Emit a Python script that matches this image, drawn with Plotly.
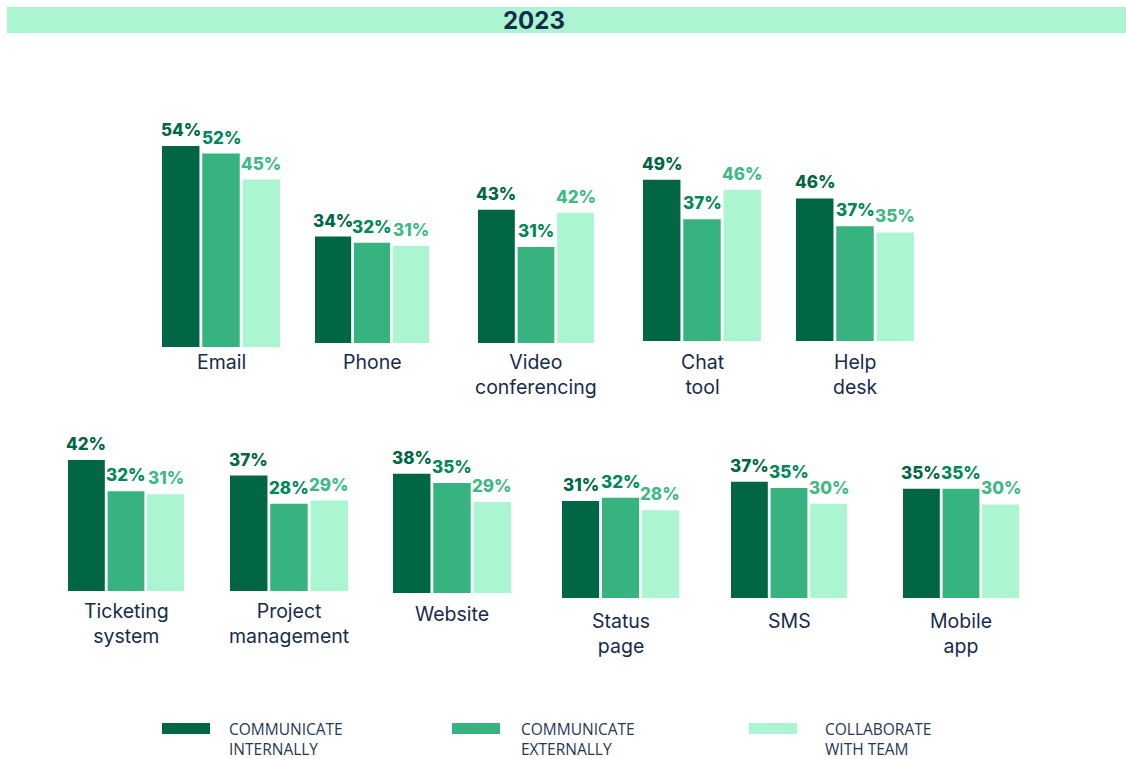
import plotly.graph_objects as go

# ---------------- data ----------------
title_text = "2023"
categories = ["Email", "Phone", "Video<br>conferencing", "Chat<br>tool", "Help<br>desk",
              "Ticketing<br>system", "Project<br>management", "Website", "Status<br>page",
              "SMS", "Mobile<br>app"]
series_names = ["COMMUNICATE<br>INTERNALLY", "COMMUNICATE<br>EXTERNALLY", "COLLABORATE<br>WITH TEAM"]
communicate_internally = [54, 34, 43, 49, 46, 42, 37, 38, 31, 37, 35]
communicate_externally = [52, 32, 31, 37, 37, 32, 28, 35, 32, 35, 35]
collaborate_with_team = [45, 31, 42, 46, 35, 31, 29, 29, 28, 30, 30]
series_values = [communicate_internally, communicate_externally, collaborate_with_team]

# ---------------- styles / layout ----------------
W, H = 1126, 759
bar_colors = ["#006644", "#36B37E", "#ABF5D1"]
label_colors = ["#006644", "#00875A", "#3DBA85"]
navy = "#172B4D"

# per group: left px, right px, baseline px, px per percent, label first-line centre px
group_geom = [
    (162, 280, 347, 3.72, 362),
    (315, 429, 343, 3.13, 362),
    (478, 594, 343, 3.10, 362),
    (643, 761, 341, 3.29, 362),
    (796, 914, 341, 3.10, 362),
    (68, 184, 591, 3.12, 610),
    (230, 348, 591, 3.12, 610),
    (393, 511, 593, 3.14, 613),
    (562, 679, 598, 3.13, 620),
    (731, 847, 598, 3.14, 620),
    (903, 1019, 598, 3.12, 620),
]
YMAX = 60
BAR_W = 0.93

fig = go.Figure()
layout_axes = {}
annotations = []

for g, (left, right, base, scale, lab_y) in enumerate(group_geom):
    n = g + 1
    xa = "x" if n == 1 else f"x{n}"
    ya = "y" if n == 1 else f"y{n}"
    for s in range(3):
        v = series_values[s][g]
        fig.add_trace(go.Bar(
            x=[s], y=[v],
            xaxis=xa, yaxis=ya,
            width=BAR_W,
            marker=dict(color=bar_colors[s], line=dict(width=0)),
            name=series_names[s].replace("<br>", " "),
            showlegend=False,
            hoverinfo="skip",
        ))
        annotations.append(dict(
            text=f"{v}%", x=s, y=v, xref=xa, yref=ya, xanchor="center", yanchor="bottom",
            yshift=4, showarrow=False,
            font=dict(family="Inter", size=17, color=label_colors[s], weight=800),
        ))
    xkey = "xaxis" if n == 1 else f"xaxis{n}"
    ykey = "yaxis" if n == 1 else f"yaxis{n}"
    top = base - YMAX * scale
    layout_axes[xkey] = dict(domain=[left / W, right / W], range=[-BAR_W / 2, 2 + BAR_W / 2],
                             visible=False, fixedrange=True, anchor=ya)
    layout_axes[ykey] = dict(domain=[1 - base / H, 1 - top / H], range=[0, YMAX],
                             visible=False, fixedrange=True, anchor=xa)
    annotations.append(dict(
        text=categories[g], x=(left + right) / 2 / W, y=1 - (lab_y - 13.5) / H,
        xref="paper", yref="paper", xanchor="center", yanchor="top", showarrow=False,
        align="center", font=dict(family="Inter", size=19.5, color=navy),
    ))

# banner + title
shapes = [dict(type="rect", xref="paper", yref="paper", x0=7 / W, x1=1, y0=1 - 33 / H, y1=1 - 7 / H,
               fillcolor="#ABF5D1", line=dict(width=0), layer="below")]
annotations.append(dict(text=f"<b>{title_text}</b>", x=534 / W, y=1 - 20.5 / H, xref="paper", yref="paper",
                        xanchor="center", yanchor="middle", showarrow=False,
                        font=dict(family="Inter", size=24, color=navy, weight=900)))

# custom legend
legend_geom = [(162, 210, 227), (452, 500, 519), (749, 797, 823)]
for s, (sx0, sx1, tx) in enumerate(legend_geom):
    shapes.append(dict(type="rect", xref="paper", yref="paper", x0=sx0 / W, x1=sx1 / W,
                       y0=1 - 734 / H, y1=1 - 723 / H, fillcolor=bar_colors[s], line=dict(width=0)))
    annotations.append(dict(text=series_names[s], x=tx / W, y=1 - 738.5 / H, xref="paper", yref="paper",
                            xanchor="left", yanchor="middle", align="left", showarrow=False,
                            font=dict(family="Open Sans", size=15.5, color="#253858")))

fig.update_layout(
    width=W, height=H, margin=dict(l=0, r=0, t=0, b=0),
    paper_bgcolor="white", plot_bgcolor="rgba(0,0,0,0)",
    barmode="group", shapes=shapes, annotations=annotations,
    showlegend=False, **layout_axes,
)

fig.write_html("out.html", config={"displayModeBar": False},
               post_script="document.body.style.margin='0';document.body.style.overflow='hidden';")
